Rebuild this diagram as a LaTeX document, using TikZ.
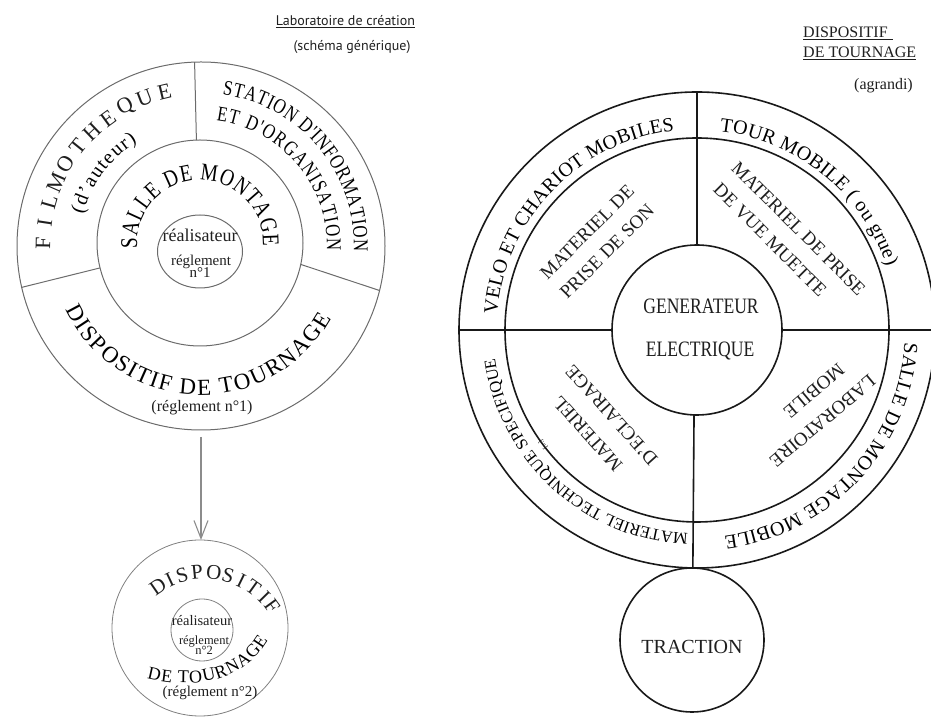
\documentclass[tikz,border=0pt]{standalone}
\usepackage{fontspec}
\setmainfont{Liberation Serif}
\newfontfamily\cond[FakeStretch=0.8]{Liberation Serif}
\newfontfamily\ptsans{PT Sans}
\usetikzlibrary{decorations.text,arrows.meta,shapes.geometric}
\newcommand\fsz[1]{\fontsize{#1}{#1}\selectfont}
\tikzset{
  lline/.style={draw=black!58, line width=1pt},
  rline/.style={draw=black!90, line width=1.6pt},
  sline/.style={draw=black!50, line width=0.8pt},
  ring/.style={circle, inner sep=0pt, outer sep=0pt, minimum size=#1},
  lab/.style={text=black!88, inner sep=0pt},
  fittext/.style={decorate, decoration={text along path, text={#1}, text align=fit to path}},
  arr/.style={draw=black!45, line width=1.1pt, -{Straight Barb[length=18pt,width=14pt]}},
}
\begin{document}
\begin{tikzpicture}[x=1pt,y=1pt]
\useasboundingbox (0,0) rectangle (931,717);

% ---------- titles ----------
\node[lab, font=\ptsans\fsz{14}] (labo) at (345.5,695) {\underline{Laboratoire de création}};
\node[lab, font=\ptsans\fsz{14}] (schema) at (352,670) {(schéma générique)};
\node[lab, font=\fsz{16}, anchor=base west] (tdisp) at (803,679) {\underline{DISPOSITIF\kern5pt}};
\node[lab, font=\fsz{16}, anchor=base west] (ttour) at (803,659) {\underline{DE TOURNAGE}};
\node[lab, font=\fsz{16}, anchor=base east] (tagr) at (913,627) {(agrandi)};

% ---------- left big circle ----------
\coordinate (LC) at (201,471);
\coordinate (MC) at (200,474);
\node[ring=368, lline] (Lout) at (LC) {};
\node[ring=206, lline] (Lmid) at (MC) {};
\node[ellipse, lline, inner sep=0pt, outer sep=0pt, minimum width=85, minimum height=73] (Lin) at (200,465.5) {};
\draw[lline] (Lmid.92) -- (Lout.92);
\draw[lline] (Lmid.194) -- (Lout.193);
\draw[lline] (Lmid.-12) -- (Lout.-14);

\foreach \ch [count=\i from 0] in {F,I,L,M,O,T,H,E,Q,U,E}{
  \pgfmathsetmacro\ang{179-\i*7.56}
  \node[lab, font=\fsz{22}, rotate=\ang-90] (film\i) at ([shift={(\ang:158)}]LC) {\ch};
}
\path[fittext={|\fsz{20}|(d'auteur)}] ([shift={(165:122)}]LC) arc[start angle=165, end angle=121.5, radius=122];
\path[fittext={|\cond\fsz{21}|STATION D'INFORMATION}] ([shift={(82:153)}]LC) arc[start angle=82, end angle=-2, radius=153];
\path[fittext={|\cond\fsz{21}|ET D'ORGANISATION}] ([shift={(83:126)}]LC) arc[start angle=83, end angle=-2, radius=126];
\path[fittext={|\cond\fsz{24}|SALLE DE MONTAGE}] ([shift={(185:63)}]MC) arc[start angle=185, end angle=-3, radius=63];
\path[fittext={|\fsz{23}|DISPOSITIF DE TOURNAGE}] ([shift={(205:149)}]LC) arc[start angle=205, end angle=331, radius=149];

\node[lab, font=\fsz{18}, anchor=base] (real1) at (200,475) {réalisateur};
\node[lab, font=\fsz{15}, anchor=base] (reg1) at (201,451) {réglement};
\node[lab, font=\fsz{15}, anchor=base] (n1) at (200,439) {n°1};
\node[lab, font=\fsz{16}, anchor=base] (reg1b) at (202,305) {(réglement n°1)};

% ---------- small circle ----------
\node[ring=176, sline] (Sout) at (200,89) {};
\node[ring=62, sline] (Sin) at (202,87) {};
\draw[arr, shorten <=7pt] (Lout.south) -- (Lout.south |- Sout.north);
\coordinate (DC) at (205,62);
\foreach \ch/\ang [count=\i] in {D/124.6,I/115,S/106,P/95.6,O/83.8,S/73.8,I/64,T/54.4,I/44.5,F/36}{
  \node[lab, font=\fsz{21}, rotate=\ang-90] (disp\i) at ([shift={(\ang:83)}]DC) {\ch};
}
\path[fittext={|\fsz{18}|DE TOURNAGE}] (147,39) .. controls (185,29) and (240,30) .. (268,77);
\node[lab, font=\fsz{14.5}, anchor=base] (real2) at (202,91) {réalisateur};
\node[lab, font=\fsz{12.5}, anchor=base] (reg2) at (204,72) {réglement};
\node[lab, font=\fsz{12.5}, anchor=base] (n2) at (204,62) {n°2};
\node[lab, font=\fsz{15}, anchor=base] (reg2b) at (210,20) {(réglement n°2)};

% ---------- right circle ----------
\coordinate (RC) at (697,387);
\node[ring=476, rline] (Rout) at (RC) {};
\node[ring=384, rline] (Rmid) at (RC) {};
\node[ring=170, rline] (Rgen) at (RC) {};
\node[ring=144, rline] (Trac) at (692,77) {};
\draw[rline] (Rgen.90) -- (Rout.90);
\draw[rline] (Rgen.268.5) -- (Rout.269);
\draw[rline] (Rout.180) -- (Rgen.180);
\draw[rline] (Rgen.0) -- (Rout.0);

\node[lab, font=\cond\fsz{22}] (gen1) at (701,411) {GENERATEUR};
\node[lab, font=\cond\fsz{22}] (gen2) at (700,366) {ELECTRIQUE};
\node[lab, font=\fsz{20}] (tractxt) at (692,70) {TRACTION};

\path[fittext={|\fsz{20}|VELO ET CHARIOT MOBILES}] ([shift={(175.5:200.5)}]RC) arc[start angle=175.5, end angle=96.5, radius=200.5];
\path[fittext={|\fsz{20}|TOUR MOBILE ( ou grue)}] ([shift={(83.5:200)}]RC) arc[start angle=83.5, end angle=18.5, radius=200];
\path[fittext={|\fsz{20}|SALLE DE MONTAGE MOBILE}] ([shift={(-3.5:208)}]RC) arc[start angle=-3.5, end angle=-82.5, radius=208];
\path[fittext={|\fsz{16.5}|MATERIEL TECHNIQUE SPECIFIQUE}] ([shift={(267.5:204)}]RC) arc[start angle=267.5, end angle=188, radius=204];
\node[lab, font=\fsz{7}, rotate=126.7] (gap) at ([shift={(216.7:192)}]RC) {[...]};

\node[lab, font=\fsz{19}, rotate=45] (ul1) at (587,485) {MATERIEL DE};
\node[lab, font=\fsz{19}, rotate=45] (ul2) at (607,465.5) {PRISE DE SON};
\node[lab, font=\fsz{19}, rotate=-45] (ur1) at (798.5,488.5) {MATERIEL DE PRISE};
\node[lab, font=\fsz{19}, rotate=-45] (ur2) at (770,477) {DE VUE MUETTE};
\node[lab, font=\fsz{19}, rotate=132] (ll1) at (587.5,283.5) {MATERIEL};
\node[lab, font=\fsz{19}, rotate=132] (ll2) at (611.5,302) {D'ECLAIRAGE};
\node[lab, font=\fsz{19}, rotate=220] (lr1) at (822.5,296) {LABORATOIRE};
\node[lab, font=\fsz{19}, rotate=220] (lr2) at (814,326) {MOBILE};
\end{tikzpicture}
\end{document}
